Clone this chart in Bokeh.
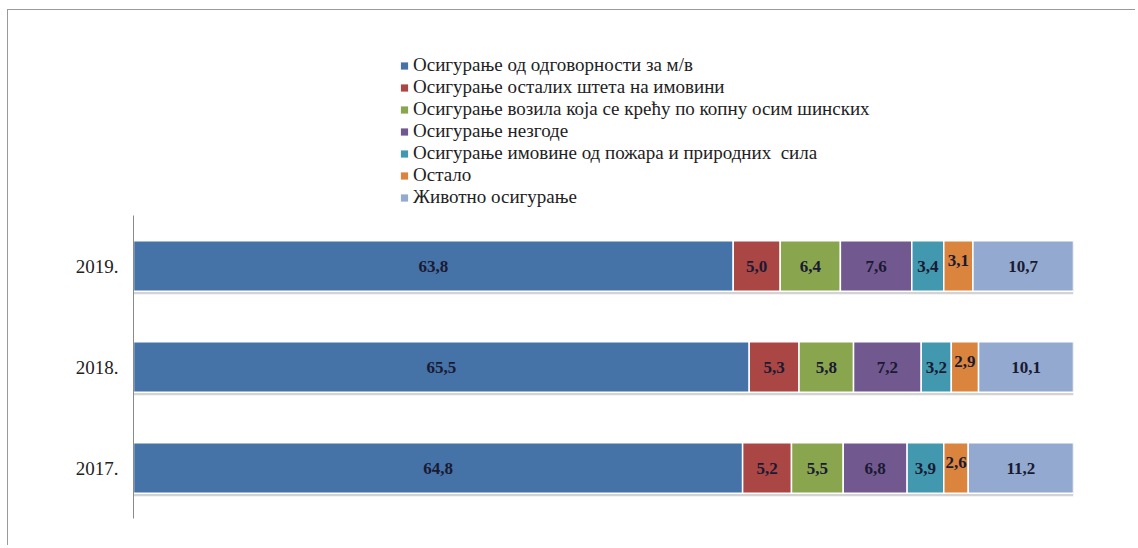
from bokeh.plotting import figure
from bokeh.models import ColumnDataSource, FixedTicker, Legend, LegendItem
from bokeh.core.properties import value
from bokeh.embed import file_html
from bokeh.resources import INLINE
import numpy as np

years = ["2017.", "2018.", "2019."]
series = [
    "Осигурање од одговорности за м/в",
    "Осигурање осталих штета на имовини",
    "Осигурање возила која се крећу по копну осим шинских",
    "Осигурање незгоде",
    "Осигурање имовине од пожара и природних  сила",
    "Остало",
    "Животно осигурање",
]
colors = ["#4572A7", "#AA4643", "#89A54E", "#71588F", "#4198AF", "#DB843D", "#93A9CF"]

mv = [64.8, 65.5, 63.8]
ostale_stete = [5.2, 5.3, 5.0]
vozila = [5.5, 5.8, 6.4]
nezgode = [6.8, 7.2, 7.6]
pozar = [3.9, 3.2, 3.4]
ostalo = [2.6, 2.9, 3.1]
zivotno = [11.2, 10.1, 10.7]

values = [mv, ostale_stete, vozila, nezgode, pozar, ostalo, zivotno]
keys = ["s%d" % i for i in range(len(values))]

ypos = [i + 0.5 for i in range(len(years))]
data = {"y": ypos}
for k, v in zip(keys, values):
    data[k] = v
source = ColumnDataSource(data)

FONT = "Liberation Serif"

p = figure(width=1128, height=536, output_backend="svg", toolbar_location=None,
           x_range=(0, 100), y_range=(0, 5.03), x_axis_location=None,
           min_border_left=125, min_border_right=63, min_border_top=0, min_border_bottom=28,
           background_fill_color="white", border_fill_color="white")
p.outline_line_color = None
p.xgrid.visible = False
p.ygrid.visible = False
p.styles = {"border-top": "1px solid #9a9a9a", "border-left": "1px solid #9a9a9a",
            "margin-left": "7px", "margin-top": "9px"}

# shadow under bars
totals = np.sum(np.array(values), axis=0)
p.hbar(y=[y - 0.03 for y in ypos], left=0, right=totals, height=0.5,
       fill_color="#a8a8a8", fill_alpha=0.5, line_color=None)

p.hbar_stack(keys, y="y", height=0.5, color=colors, source=source,
             line_color="white", line_width=1.5)

# labels
arr = np.array(values)
cum = np.cumsum(arr, axis=0)
for i, v in enumerate(values):
    centers = cum[i] - arr[i] / 2.0
    txt = [("%.1f" % x).replace(".", ",") for x in v]
    p.text(x=list(centers), y=ypos, text=txt, text_align="center", text_baseline="middle",
           text_font=value(FONT), text_font_style="bold", text_font_size="17px",
           text_color="#1a1a33", y_offset=(-6 if i == 5 else 0))

# y axis
ax = p.yaxis[0]
ax.ticker = FixedTicker(ticks=ypos)
ax.major_label_overrides = {y: lab for y, lab in zip(ypos, years)}
ax.bounds = (0, len(years))
ax.axis_line_color = "#8a8a8a"
ax.axis_line_width = 1
ax.major_tick_line_color = None
ax.minor_tick_line_color = None
ax.major_tick_out = 0
ax.major_tick_in = 0
ax.major_label_standoff = 15
ax.major_label_text_font = FONT
ax.major_label_text_font_size = "19px"
ax.major_label_text_color = "#222222"

# legend (square markers, no visible data points)
nan = float("nan")
items = []
for name, c in zip(series, colors):
    r = p.scatter(x=[nan], y=[nan], marker="square", fill_color=c, line_color=None)
    items.append(LegendItem(label=name, renderers=[r]))
leg = Legend(items=items, location=(262, 310), padding=0, spacing=0, margin=0,
             glyph_width=18, glyph_height=21, label_height=21, label_standoff=0,
             label_text_font=FONT, label_text_font_size="19px", label_text_color="#222222",
             border_line_color=None, background_fill_alpha=0)
p.add_layout(leg)

open("out.html", "w").write(file_html(p, INLINE))
